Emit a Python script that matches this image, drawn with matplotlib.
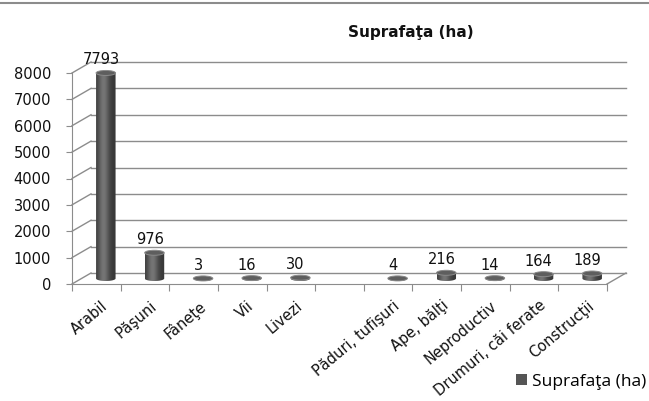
import numpy as np
import matplotlib
matplotlib.use("Agg")
import matplotlib.pyplot as plt
from matplotlib.patches import Polygon, Ellipse, Patch
from matplotlib.lines import Line2D

# data
categories = ["Arabil", "Păşuni", "Fâneţe", "Vii", "Livezi", "",
              "Păduri, tufişuri", "Ape, bălţi", "Neproductiv",
              "Drumuri, căi ferate", "Construcţii"]
values = [7793, 976, 3, 16, 30, None, 4, 216, 14, 164, 189]
y_ticks = [0, 1000, 2000, 3000, 4000, 5000, 6000, 7000, 8000]
title = "Suprafaţa (ha)"
series_name = "Suprafaţa (ha)"

# layout in pixels of the 649x401 picture
W, H = 649, 401
x0_px, x1_px = 72, 607          # front floor edge
y0_px, y8k_px = 284, 73         # value 0 and 8000 on the front wall
dx_px, dy_px = 19, 11           # depth offset of the back wall
bar_px, cap_px = 19.5, 5

n = len(categories)
px_per_slot = (x1_px - x0_px) / n
px_per_unit = (y0_px - y8k_px) / 8000
dxu = dx_px / px_per_slot
dyu = dy_px / px_per_unit
ylo, yhi = -1600, 9200

plt.rcParams["font.family"] = ["DejaVu Sans"]
fig = plt.figure(figsize=(W / 100, H / 100), dpi=100)
bottom_px = y0_px - ylo * px_per_unit
top_px = y0_px - yhi * px_per_unit
ax = fig.add_axes([x0_px / W, 1 - bottom_px / H,
                   (x1_px - x0_px) / W, (bottom_px - top_px) / H])
ax.set_xlim(0, n)
ax.set_ylim(ylo, yhi)
ax.patch.set_visible(False)

grid_c = "#8c8c8c"
# back wall gridlines + side wall diagonals
for v in y_ticks:
    ax.plot([dxu, n + dxu], [v + dyu, v + dyu], color=grid_c, lw=1.0, clip_on=False, zorder=1)
    ax.plot([0, dxu], [v, v + dyu], color=grid_c, lw=1.0, clip_on=False, zorder=1)
# floor right edge
ax.plot([n, n + dxu], [0, dyu], color=grid_c, lw=1.0, clip_on=False, zorder=1)

# axes spines / ticks
for s in ["top", "right"]:
    ax.spines[s].set_visible(False)
ax.spines["left"].set_bounds(0, 8000)
ax.spines["left"].set_color(grid_c)
ax.spines["bottom"].set_position(("data", 0))
ax.spines["bottom"].set_bounds(0, n)
ax.spines["bottom"].set_color(grid_c)
ax.set_yticks(y_ticks)
ax.set_yticklabels([str(v) for v in y_ticks], fontsize=10.5, color="#111111")
ax.tick_params(axis="y", length=4, color=grid_c, pad=11)
ax.set_xticks(np.arange(n + 1))
ax.set_xticklabels([])
ax.tick_params(axis="x", length=5, color=grid_c, direction="out")

# cylinder shading profile
t = np.linspace(0, 1, 60)
shade = 0.22 + 0.24 * np.exp(-((t - 0.38) / 0.28) ** 2)
grad = np.dstack([shade, shade, shade])[None, :, :].reshape(1, -1, 3)

w = bar_px / px_per_slot
eh = cap_px / px_per_unit
for i, v in enumerate(values):
    if v is None:
        continue
    cx = i + 0.5 + dxu / 2
    base = dyu / 2
    top = v + dyu / 2
    th = np.linspace(np.pi, 2 * np.pi, 30)
    pts = [(cx + w / 2 * np.cos(a), base + eh / 2 * np.sin(a)) for a in th]
    pts += [(cx + w / 2, top), (cx - w / 2, top)]
    body = Polygon(pts, closed=True, transform=ax.transData, facecolor="none", edgecolor="none")
    ax.add_patch(body)
    im = ax.imshow(grad, extent=(cx - w / 2, cx + w / 2, base - eh / 2, top),
                   aspect="auto", interpolation="bilinear", zorder=3)
    im.set_clip_box(None)
    im.set_clip_path(body)
    ax.add_patch(Ellipse((cx, top), w, eh, facecolor="#5e5e5e", edgecolor="#8a8a8a",
                         lw=0.7, zorder=4, clip_on=False))
    ax.text(cx - 0.1, top + 13 / px_per_unit, str(v), ha="center", va="center",
            fontsize=10.5, color="#111111", zorder=5)

# category labels
for i, c in enumerate(categories):
    if not c:
        continue
    ax.text(i + 0.5 + 5 / px_per_slot, -14 / px_per_unit, c, rotation=40,
            rotation_mode="anchor", ha="right", va="top", fontsize=10.5, color="#111111")

ax.set_xlim(0, n)
ax.set_ylim(ylo, yhi)

fig.text(411 / W, 1 - 33 / H, title, ha="center", va="center",
         fontsize=11, fontweight="bold", color="#111111")

fig.legend([Patch(facecolor="#555555", edgecolor="none")], [series_name],
           loc="center right", bbox_to_anchor=(646 / W, 1 - 382 / H), frameon=False,
           handlelength=0.6, handleheight=0.6, handletextpad=0.3, borderpad=0,
           borderaxespad=0, prop={"family": "Open Sans", "size": 12.5})

fig.add_artist(Line2D([0, 1], [1 - 2.5 / H] * 2, color="#8c8c8c", lw=1.5))

fig.savefig("out.png", dpi=100)
